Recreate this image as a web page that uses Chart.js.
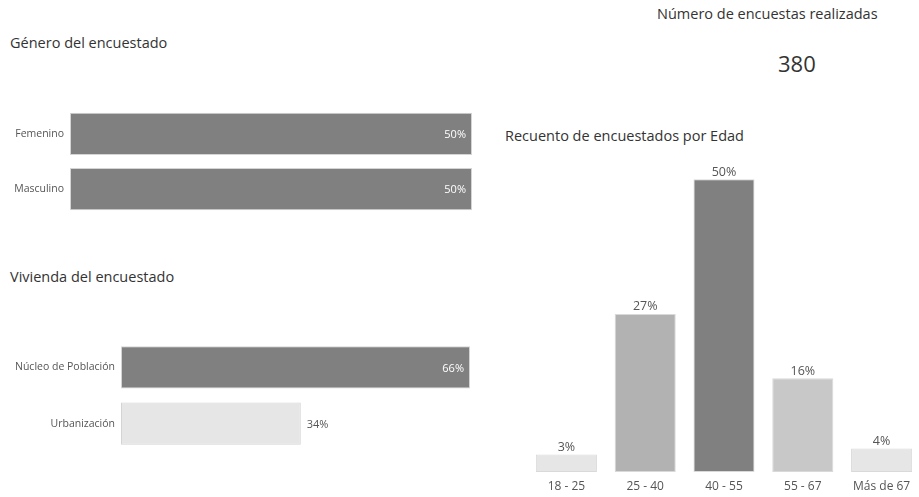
<!DOCTYPE html>
<html>
<head>
<meta charset="utf-8">
<script src="https://cdn.jsdelivr.net/npm/chart.js@4"></script>
<style>
  body { margin: 0; background: #fff; font-family: "Open Sans", sans-serif; }
  #wrap { position: relative; width: 919px; height: 497px; overflow: hidden; }
  .t { position: absolute; color: #333; font-size: 14.5px; white-space: nowrap; line-height: 1; }
  canvas { position: absolute; }
</style>
</head>
<body>
<div id="wrap">
  <div class="t" style="left:10px; top:36px;">Género del encuestado</div>
  <div class="t" style="left:10px; top:270px;">Vivienda del encuestado</div>
  <div class="t" style="left:505px; top:129px;">Recuento de encuestados por Edad</div>
  <div class="t" style="left:657px; top:7px;">Número de encuestas realizadas</div>
  <div class="t" id="total" style="left:778px; top:52px; font-size:22px;"></div>
  <canvas id="genero" width="480" height="135" style="left:0; top:94px;"></canvas>
  <canvas id="vivienda" width="480" height="137" style="left:0; top:327px;"></canvas>
  <canvas id="edad" width="416" height="352" style="left:505px; top:145px;"></canvas>
</div>
<script>
// datos
const totalEncuestas = 380;
const generoLabels = ['Femenino', 'Masculino'];
const generoValues = [50, 50];
const viviendaLabels = ['Núcleo de Población', 'Urbanización'];
const viviendaValues = [66, 34];
const edadLabels = ['18 - 25', '25 - 40', '40 - 55', '55 - 67', 'Más de 67'];
const edadValues = [3, 27, 50, 16, 4];

document.getElementById('total').textContent = totalEncuestas;

Chart.defaults.font.family = '"Open Sans", sans-serif';
Chart.defaults.animation = false;

// etiquetas de valor sobre las barras
const etiquetas = {
    id: 'etiquetas',
    afterDatasetsDraw(chart, args, opts) {
        const ctx = chart.ctx;
        const meta = chart.getDatasetMeta(0);
        const data = chart.data.datasets[0].data;
        const max = Math.max(...data);
        ctx.save();
        ctx.font = (opts.size || 11) + 'px "Open Sans", sans-serif';
        meta.data.forEach((bar, i) => {
            const txt = data[i] + '%';
            if (opts.horizontal) {
                ctx.textBaseline = 'middle';
                if (data[i] === max) {
                    ctx.fillStyle = '#ffffff';
                    ctx.textAlign = 'right';
                    ctx.fillText(txt, bar.x - 6, bar.y + 1);
                } else {
                    ctx.fillStyle = '#555555';
                    ctx.textAlign = 'left';
                    ctx.fillText(txt, bar.x + 6, bar.y + 1);
                }
            } else {
                ctx.fillStyle = '#555555';
                ctx.textAlign = 'center';
                ctx.textBaseline = 'bottom';
                ctx.fillText(txt, bar.x, bar.y - 1);
            }
        });
        ctx.restore();
    }
};

function barraHorizontal(id, labels, values, colors, maxVal, axisW, pad, catPct) {
    new Chart(document.getElementById(id), {
        type: 'bar',
        data: {
            labels: labels,
            datasets: [{
                data: values,
                backgroundColor: colors,
                borderColor: '#d4d4d4',
                borderWidth: 1,
                borderSkipped: false,
                barPercentage: 1,
                categoryPercentage: catPct
            }]
        },
        options: {
            indexAxis: 'y',
            responsive: false,
            layout: { padding: pad },
            plugins: { legend: { display: false }, tooltip: { enabled: false },
                       etiquetas: { horizontal: true, size: 11 } },
            scales: {
                x: { display: false, min: 0, max: maxVal },
                y: {
                    grid: { display: false, drawTicks: false },
                    border: { display: false },
                    ticks: { color: '#555', font: { size: 10.5 }, padding: 6 },
                    afterFit: s => { s.width = axisW; }
                }
            }
        },
        plugins: [etiquetas]
    });
}

barraHorizontal('genero', generoLabels, generoValues, ['#808080', '#808080'], 50, 70,
    { right: 8 }, 0.764);
barraHorizontal('vivienda', viviendaLabels, viviendaValues, ['#808080', '#e6e6e6'], 66, 121,
    { right: 10 }, 0.75);

new Chart(document.getElementById('edad'), {
    type: 'bar',
    data: {
        labels: edadLabels,
        datasets: [{
            data: edadValues,
            backgroundColor: ['#e6e6e6', '#b2b2b2', '#808080', '#c8c8c8', '#e6e6e6'],
            borderColor: '#d9d9d9',
            borderWidth: 1,
            borderSkipped: false,
            barPercentage: 1,
            categoryPercentage: 0.775
        }]
    },
    options: {
        responsive: false,
        layout: { padding: { top: 5, left: 22, right: 0, bottom: 0 } },
        plugins: { legend: { display: false }, tooltip: { enabled: false },
                   etiquetas: { horizontal: false, size: 12.5 } },
        scales: {
            y: { display: false, min: 0, max: 55 },
            x: {
                grid: { display: false, drawTicks: false },
                border: { display: false },
                ticks: { color: '#555', font: { size: 12 }, padding: 7, maxRotation: 0 },
                afterFit: s => { s.height = 25; }
            }
        }
    },
    plugins: [etiquetas]
});
</script>
</body>
</html>
